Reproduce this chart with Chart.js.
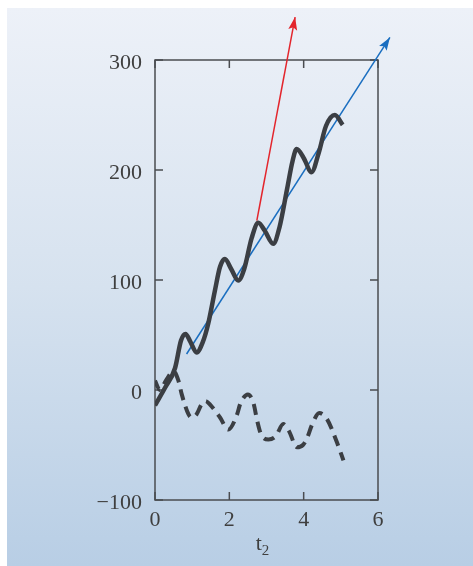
<!DOCTYPE html>
<html>
<head>
<meta charset="utf-8">
<script src="https://cdn.jsdelivr.net/npm/chart.js@4/dist/chart.umd.min.js"></script>
<style>
  html, body { margin: 0; padding: 0; background: #ffffff; }
  #wrap { position: absolute; left: 0; top: 0; width: 473px; height: 566px; }
  #panel { position: absolute; left: 7px; top: 8px; right: 0; bottom: 0;
           background: linear-gradient(to bottom, #edf1f8 0%, #d6e2ef 50%, #b8cee5 100%); }
  canvas { position: absolute; left: 0; top: 0; }
</style>
</head>
<body>
<div id="wrap"><div id="panel"></div><canvas id="c" width="473" height="566"></canvas></div>
<script>
// Axis ticks
const xTickValues = [0, 2, 4, 6];
const yTickValues = [-100, 0, 100, 200, 300];
const yTickLabels = ['\u2212100', '0', '100', '200', '300'];

// Solid curve (t, value)
const solidT = [0, 0.27, 0.54, 0.7, 0.82, 0.95, 1.12, 1.28, 1.43, 1.61, 1.75, 1.88, 2.05, 2.24, 2.4, 2.6, 2.78, 2.95, 3.18, 3.35, 3.55, 3.7, 3.81, 4.0, 4.21, 4.4, 4.6, 4.84, 5.05];
const solidV = [-14, 2, 20, 45, 51, 44, 34, 43, 60, 90, 112, 119, 110, 99.5, 110, 138, 152, 145, 133, 148, 182, 208, 219, 211, 198, 215, 240, 250, 241];

// Dashed curve (t, value)
const dashT = [0, 0.13, 0.3, 0.5, 0.63, 0.72, 0.9, 0.98, 1.12, 1.25, 1.36, 1.5, 1.75, 1.97, 2.2, 2.3, 2.5, 2.65, 2.75, 2.85, 3.05, 3.25, 3.45, 3.6, 3.82, 3.98, 4.1, 4.22, 4.42, 4.62, 4.9, 5.07];
const dashV = [8.5, 0, 9, 17, 8.5, -4, -22, -25, -22, -13, -10, -14, -25, -36, -23, -12, -4, -12, -28, -40, -45, -42, -31, -37, -52, -50, -43, -32, -21, -26, -48, -64];

// Arrows (start, tip)
const redArrowT = [2.74, 3.77];
const redArrowV = [154, 339];
const blueArrowT = [0.85, 6.32];
const blueArrowV = [32.7, 320.5];

const pts = (ts, vs) => ts.map((t, i) => ({ x: t, y: vs[i] }));

const INK = '#3b3e43';
const AXIS = '#4a4c50';
const TEXT = '#3f3f3f';
const SERIF = '"Liberation Serif", "Times New Roman", serif';

// Plot frame with inward tick marks on all four sides
const framePlugin = {
  id: 'frame',
  beforeDatasetsDraw(chart) {
    const { ctx, chartArea: a, scales: { x, y } } = chart;
    ctx.save();
    ctx.strokeStyle = AXIS;
    ctx.lineWidth = 1.5;
    ctx.strokeRect(a.left, a.top, a.right - a.left, a.bottom - a.top);
    const L = 8;
    ctx.beginPath();
    xTickValues.forEach(v => {
      const px = x.getPixelForValue(v);
      ctx.moveTo(px, a.bottom); ctx.lineTo(px, a.bottom - L);
      ctx.moveTo(px, a.top); ctx.lineTo(px, a.top + L);
    });
    yTickValues.forEach(v => {
      const py = y.getPixelForValue(v);
      ctx.moveTo(a.left, py); ctx.lineTo(a.left + L, py);
      ctx.moveTo(a.right, py); ctx.lineTo(a.right - L, py);
    });
    ctx.stroke();
    ctx.restore();
  }
};

// Filled arrowheads at the last point of the arrow datasets
const arrowPlugin = {
  id: 'arrowheads',
  afterDatasetsDraw(chart) {
    const { ctx } = chart;
    chart.data.datasets.forEach((ds, i) => {
      if (!ds.arrow) return;
      const els = chart.getDatasetMeta(i).data;
      const p0 = els[els.length - 2], p1 = els[els.length - 1];
      const ang = Math.atan2(p1.y - p0.y, p1.x - p0.x);
      const len = 13, half = 4.5;
      ctx.save();
      ctx.translate(p1.x, p1.y);
      ctx.rotate(ang);
      ctx.fillStyle = ds.borderColor;
      ctx.beginPath();
      ctx.moveTo(0, 0);
      ctx.lineTo(-len, -half);
      ctx.lineTo(-len * 0.8, 0);
      ctx.lineTo(-len, half);
      ctx.closePath();
      ctx.fill();
      ctx.restore();
    });
  }
};

// Axis title: t with subscript 2
const titlePlugin = {
  id: 'xTitle',
  afterDraw(chart) {
    const { ctx, chartArea: a } = chart;
    ctx.save();
    ctx.fillStyle = TEXT;
    ctx.textBaseline = 'alphabetic';
    ctx.textAlign = 'left';
    ctx.font = '22px ' + SERIF;
    const wt = ctx.measureText('t').width;
    ctx.font = '15px ' + SERIF;
    const w2 = ctx.measureText('2').width;
    const cx = (a.left + a.right) / 2 - 4;
    const x0 = cx - (wt + w2) / 2;
    ctx.font = '22px ' + SERIF;
    ctx.fillText('t', x0, 550);
    ctx.font = '15px ' + SERIF;
    ctx.fillText('2', x0 + wt, 555);
    ctx.restore();
  }
};

new Chart(document.getElementById('c'), {
  type: 'line',
  data: {
    datasets: [
      { data: pts(dashT, dashV), borderColor: INK, borderWidth: 4, borderDash: [11, 7],
        pointRadius: 0, cubicInterpolationMode: 'monotone', fill: false },
      { data: pts(solidT, solidV), borderColor: INK, borderWidth: 4.5,
        pointRadius: 0, cubicInterpolationMode: 'monotone', fill: false },
      { data: pts(redArrowT, redArrowV), borderColor: '#e3252c', borderWidth: 1.5,
        pointRadius: 0, tension: 0, clip: false, arrow: true },
      { data: pts(blueArrowT, blueArrowV), borderColor: '#1a6ec0', borderWidth: 1.5,
        pointRadius: 0, tension: 0, clip: false, arrow: true }
    ]
  },
  options: {
    responsive: false,
    animation: false,
    layout: { padding: { left: 0, top: 60, right: 95, bottom: 0 } },
    plugins: { legend: { display: false }, tooltip: { enabled: false } },
    scales: {
      x: {
        type: 'linear', min: 0, max: 6,
        grid: { display: false, drawTicks: false }, border: { display: false },
        afterBuildTicks: s => { s.ticks = xTickValues.map(v => ({ value: v })); },
        afterFit: s => { s.height = 66; },
        ticks: { color: TEXT, padding: 7, font: { family: SERIF, size: 22 }, maxRotation: 0,
                 callback: v => String(v) }
      },
      y: {
        type: 'linear', min: -100, max: 300,
        grid: { display: false, drawTicks: false }, border: { display: false },
        afterBuildTicks: s => { s.ticks = yTickValues.map(v => ({ value: v })); },
        afterFit: s => { s.width = 155; },
        ticks: { color: TEXT, padding: 13, labelOffset: 3, font: { family: SERIF, size: 22 },
                 callback: v => yTickLabels[yTickValues.indexOf(v)] }
      }
    }
  },
  plugins: [framePlugin, arrowPlugin, titlePlugin]
});
</script>
</body>
</html>
